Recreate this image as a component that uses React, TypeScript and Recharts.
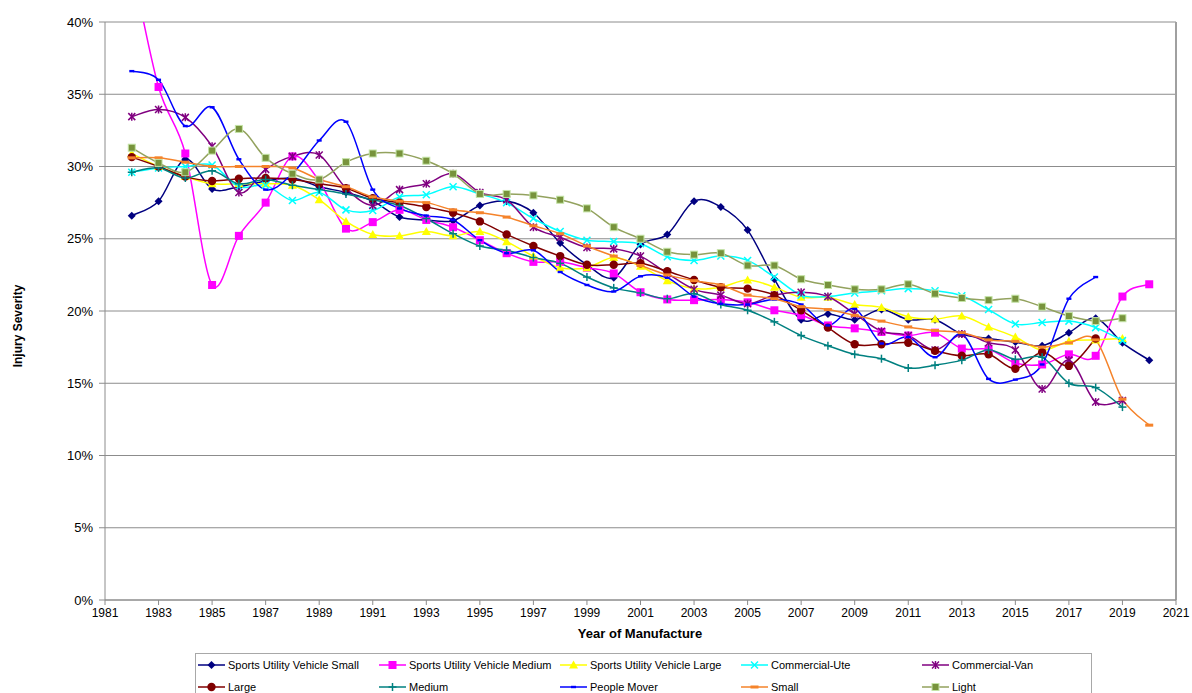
import React from 'react';
import { LineChart, Line, XAxis, YAxis, CartesianGrid, ReferenceLine } from 'recharts';

// year of manufacture
const years = [
  1982, 1983, 1984, 1985, 1986, 1987, 1988, 1989, 1990, 1991,
  1992, 1993, 1994, 1995, 1996, 1997, 1998, 1999, 2000, 2001,
  2002, 2003, 2004, 2005, 2006, 2007, 2008, 2009, 2010, 2011,
  2012, 2013, 2014, 2015, 2016, 2017, 2018, 2019, 2020,
];

// injury severity (%) per year
const suvSmall = [
  26.6, 27.6, 30.5, 28.45, 28.6, 29.0, 29.2, 28.6, 28.2, 27.6,
  26.5, 26.3, 26.25, 27.3, 27.6, 26.8, 24.7, 23.2, 22.3, 24.6,
  25.3, 27.6, 27.2, 25.6, 22.2, 19.4, 19.8, 19.4, 20.1, 19.4,
  19.4, 18.4, 18.1, 17.85, 17.6, 18.5, 19.5, 17.8, 16.6,
];
const suvMedium = [
  44.0, 35.5, 30.9, 21.8, 25.2, 27.5, 30.7, 29.0, 25.7, 26.15,
  27.0, 26.3, 25.8, 24.9, 24.0, 23.4, 23.4, 23.0, 22.6, 21.3,
  20.8, 20.75, 20.8, 20.6, 20.05, 19.7, 19.0, 18.8, 18.55, 18.3,
  18.5, 17.4, 17.35, 16.4, 16.3, 17.0, 16.9, 21.0, 21.85,
];
const suvLarge = [
  30.9, 30.0, 29.3, 28.8, 28.8, 28.8, 28.7, 27.7, 26.2, 25.3,
  25.2, 25.5, 25.2, 25.5, 24.8, 23.8, 23.0, 23.0, 23.7, 23.1,
  22.1, 21.55, 21.65, 22.15, 21.65, 20.95, 20.95, 20.45, 20.25, 19.6,
  19.45, 19.65, 18.9, 18.2, 17.3, 17.9, 18.0, 18.1, null,
];
const commercialUte = [
  29.6, 29.9, 30.0, 30.1, 28.6, 28.7, 27.65, 28.2, 27.0, 26.95,
  27.9, 28.05, 28.6, 28.1, 27.5, 26.4, 25.5, 24.9, 24.8, 24.65,
  23.75, 23.5, 23.8, 23.5, 22.35, 21.1, 21.0, 21.25, 21.4, 21.55,
  21.4, 21.05, 20.1, 19.1, 19.2, 19.3, 18.85, 17.95, null,
];
const commercialVan = [
  33.45, 33.95, 33.4, 31.4, 28.2, 29.8, 30.7, 30.8, 28.5, 27.3,
  28.4, 28.8, 29.5, 28.2, 27.7, 25.8, 25.1, 24.4, 24.3, 23.8,
  22.6, 21.5, 21.1, 20.5, 21.1, 21.3, 21.0, 19.8, 18.6, 18.3,
  17.3, 18.4, 17.8, 17.3, 14.6, 16.6, 13.7, 13.8, null,
];
const large = [
  30.65, 30.0, 29.3, 29.0, 29.15, 29.2, 29.1, 28.8, 28.5, 27.8,
  27.5, 27.2, 26.8, 26.2, 25.3, 24.5, 23.8, 23.2, 23.2, 23.3,
  22.75, 22.15, 21.65, 21.55, 21.1, 20.05, 18.85, 17.7, 17.7, 17.8,
  17.25, 16.9, 17.0, 16.0, 17.15, 16.2, 18.1, null, null,
];
const medium = [
  29.6, 29.9, 29.2, 29.7, 28.8, 29.1, 28.7, 28.4, 28.1, 27.7,
  27.3, 26.4, 25.35, 24.5, 24.2, 23.7, 23.3, 22.35, 21.6, 21.25,
  20.85, 21.2, 20.45, 20.05, 19.25, 18.3, 17.6, 17.0, 16.7, 16.05,
  16.25, 16.6, 17.3, 16.65, 16.8, 15.0, 14.7, 13.35, null,
];
const peopleMover = [
  36.6, 36.0, 32.8, 34.1, 30.5, 28.4, 29.5, 31.8, 33.1, 28.4,
  27.1, 26.6, 26.3, 24.9, 24.0, 24.2, 22.7, 21.8, 21.35, 22.4,
  22.3, 21.0, 20.5, 20.45, 20.8, 20.45, 19.0, 20.15, 17.75, 18.2,
  16.8, 18.4, 15.3, 15.25, 16.3, 20.85, 22.35, null, null,
];
const small = [
  30.6, 30.6, 30.3, 30.0, 30.0, 30.0, 29.9, 29.1, 28.6, 27.9,
  27.6, 27.5, 27.0, 26.8, 26.5, 25.9, 25.35, 24.5, 23.8, 23.15,
  22.5, 22.1, 21.8, 21.1, 20.85, 20.3, 20.1, 19.7, 19.3, 18.9,
  18.65, 18.5, 18.0, 17.9, 17.5, 17.8, 18.0, 13.9, 12.1,
];
const light = [
  31.3, 30.25, 29.6, 31.1, 32.6, 30.6, 29.5, 29.1, 30.3, 30.9,
  30.9, 30.4, 29.5, 28.1, 28.1, 28.0, 27.7, 27.1, 25.8, 25.0,
  24.1, 23.9, 24.0, 23.15, 23.15, 22.2, 21.8, 21.5, 21.5, 21.85,
  21.2, 20.9, 20.75, 20.85, 20.3, 19.65, 19.3, 19.5, null,
];

const xTicks = [1981, 1983, 1985, 1987, 1989, 1991, 1993, 1995, 1997, 1999, 2001,
  2003, 2005, 2007, 2009, 2011, 2013, 2015, 2017, 2019, 2021];
const yTicks = [0, 5, 10, 15, 20, 25, 30, 35, 40];

const series = [
  { key: 'suvSmall', name: 'Sports Utility Vehicle Small', values: suvSmall, color: '#000080', marker: 'diamond' },
  { key: 'suvMedium', name: 'Sports Utility Vehicle Medium', values: suvMedium, color: '#ff00ff', marker: 'square' },
  { key: 'suvLarge', name: 'Sports Utility Vehicle Large', values: suvLarge, color: '#ffff00', marker: 'triangle' },
  { key: 'commercialUte', name: 'Commercial-Ute', values: commercialUte, color: '#00ffff', marker: 'cross' },
  { key: 'commercialVan', name: 'Commercial-Van', values: commercialVan, color: '#800080', marker: 'star' },
  { key: 'large', name: 'Large', values: large, color: '#800000', marker: 'circle' },
  { key: 'medium', name: 'Medium', values: medium, color: '#008080', marker: 'plus' },
  { key: 'peopleMover', name: 'People Mover', values: peopleMover, color: '#0000ff', marker: 'dash' },
  { key: 'small', name: 'Small', values: small, color: '#f5832a', marker: 'bar' },
  { key: 'light', name: 'Light', values: light, color: '#93a25e', marker: 'lightSquare' },
];

const data = years.map((year, i) => {
  const row: Record<string, number | null> = { year };
  series.forEach(s => { row[s.key] = s.values[i] ?? null; });
  return row;
});

// excel-style smoothed line (catmull-rom through the points)
const excelSmooth = (context: any) => {
  let pts: number[][] = [];
  return {
    areaStart() {},
    areaEnd() {},
    lineStart() { pts = []; },
    point(x: number, y: number) { pts.push([+x, +y]); },
    lineEnd() {
      const n = pts.length;
      if (!n) return;
      context.moveTo(pts[0][0], pts[0][1]);
      for (let i = 0; i < n - 1; i++) {
        const p0 = pts[i - 1] || pts[i];
        const p1 = pts[i];
        const p2 = pts[i + 1];
        const p3 = pts[i + 2] || p2;
        context.bezierCurveTo(
          p1[0] + (p2[0] - p0[0]) / 6, p1[1] + (p2[1] - p0[1]) / 6,
          p2[0] - (p3[0] - p1[0]) / 6, p2[1] - (p3[1] - p1[1]) / 6,
          p2[0], p2[1],
        );
      }
    },
  };
};

const Marker = ({ kind, color, cx, cy }: { kind: string; color: string; cx: number; cy: number }) => {
  switch (kind) {
    case 'diamond':
      return <polygon points={`${cx},${cy - 4} ${cx + 4},${cy} ${cx},${cy + 4} ${cx - 4},${cy}`} fill={color} />;
    case 'square':
      return <rect x={cx - 4} y={cy - 4} width={8} height={8} fill={color} />;
    case 'triangle':
      return <polygon points={`${cx},${cy - 4.5} ${cx + 4.5},${cy + 3.5} ${cx - 4.5},${cy + 3.5}`} fill={color} />;
    case 'cross':
      return (
        <g stroke={color} strokeWidth={1.5}>
          <line x1={cx - 3.5} y1={cy - 3.5} x2={cx + 3.5} y2={cy + 3.5} />
          <line x1={cx - 3.5} y1={cy + 3.5} x2={cx + 3.5} y2={cy - 3.5} />
        </g>
      );
    case 'star':
      return (
        <g stroke={color} strokeWidth={1.5}>
          <line x1={cx - 3.5} y1={cy - 3.5} x2={cx + 3.5} y2={cy + 3.5} />
          <line x1={cx - 3.5} y1={cy + 3.5} x2={cx + 3.5} y2={cy - 3.5} />
          <line x1={cx} y1={cy - 4} x2={cx} y2={cy + 4} />
        </g>
      );
    case 'circle':
      return <circle cx={cx} cy={cy} r={4.2} fill={color} />;
    case 'plus':
      return (
        <g stroke={color} strokeWidth={1.5}>
          <line x1={cx - 4} y1={cy} x2={cx + 4} y2={cy} />
          <line x1={cx} y1={cy - 4} x2={cx} y2={cy + 4} />
        </g>
      );
    case 'dash':
      return <rect x={cx - 2.5} y={cy - 1.2} width={5} height={2.4} fill={color} />;
    case 'bar':
      return <rect x={cx - 4} y={cy - 1.5} width={8} height={3} fill={color} />;
    case 'lightSquare':
      return <rect x={cx - 3.5} y={cy - 3.5} width={7} height={7} fill="#77933c" stroke="#c4e4a6" strokeWidth={1} />;
    default:
      return null;
  }
};

const makeDot = (kind: string, color: string) => (props: any) => {
  const { cx, cy, index, value } = props;
  if (cx == null || cy == null || value == null || Number.isNaN(cy)) return <g key={`d-${index}`} />;
  return (
    <g key={`d-${index}`}>
      <Marker kind={kind} color={color} cx={cx} cy={cy} />
    </g>
  );
};

const font = 'Arial, "Liberation Sans", sans-serif';

const YTitle = () => (
  <text x={22} y={326} transform="rotate(-90, 22, 326)" textAnchor="middle" fontSize={12} fontWeight="bold"
    fontFamily={font} fill="#000">
    Injury Severity
  </text>
);

const XTitle = () => (
  <text x={640} y={638} textAnchor="middle" fontSize={13} fontWeight="bold" fontFamily={font} fill="#000">
    Year of Manufacture
  </text>
);

const legendCols = [0, 1, 2, 3, 4];

export default function App() {
  return (
    <div style={{ position: 'absolute', left: 0, top: 0, width: 1192, height: 693, background: '#fff', overflow: 'hidden' }}>
      <LineChart width={1192} height={693} data={data} margin={{ top: 22, right: 16, left: 0, bottom: 53 }}>
        <CartesianGrid vertical={false} stroke="#8c8c8c" strokeWidth={1} />
        <XAxis
          dataKey="year"
          type="number"
          domain={[1981, 2021]}
          ticks={xTicks}
          height={40}
          tickSize={5}
          tickMargin={3}
          stroke="#8c8c8c"
          tick={{ fontSize: 12, fill: '#000', fontFamily: font }}
          label={<XTitle />}
        />
        <YAxis
          type="number"
          domain={[0, 40]}
          ticks={yTicks}
          allowDataOverflow
          width={105}
          tickSize={6}
          tickMargin={6}
          stroke="#8c8c8c"
          tickFormatter={(v) => `${v}%`}
          tick={{ fontSize: 13, fill: '#000', fontFamily: font }}
          label={<YTitle />}
        />
        <ReferenceLine x={2021} stroke="#a0a0a0" strokeWidth={2} />
        {series.map(s => (
          <Line
            key={s.key}
            dataKey={s.key}
            name={s.name}
            type={excelSmooth as any}
            stroke={s.color}
            strokeWidth={1.5}
            dot={makeDot(s.marker, s.color)}
            activeDot={false}
            isAnimationActive={false}
          />
        ))}
      </LineChart>

      <div style={{
        position: 'absolute', left: 195, top: 653, width: 895, height: 60,
        border: '1px solid #a8a8a8', background: '#fff', fontFamily: font, fontSize: 11, color: '#000',
      }}>
        {series.map((s, i) => {
          const col = legendCols[i % 5];
          const row = Math.floor(i / 5);
          return (
            <div key={s.key} style={{
              position: 'absolute', left: 2 + col * 181, top: row * 22 + 3, height: 16,
              display: 'flex', alignItems: 'center', whiteSpace: 'nowrap',
            }}>
              <svg width={28} height={12} style={{ marginRight: 2 }}>
                <line x1={0} y1={6} x2={27} y2={6} stroke={s.color} strokeWidth={1.5} />
                <Marker kind={s.marker} color={s.color} cx={13.5} cy={6} />
              </svg>
              <span>{s.name}</span>
            </div>
          );
        })}
      </div>
    </div>
  );
}
